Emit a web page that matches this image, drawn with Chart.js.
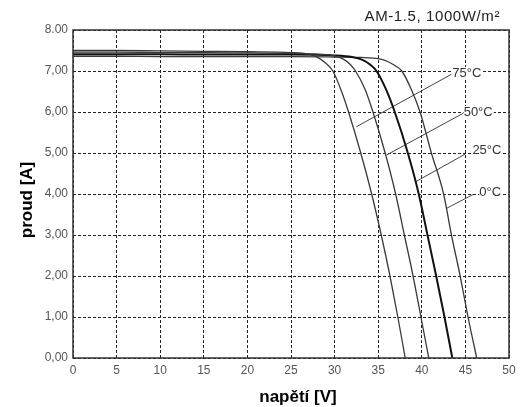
<!DOCTYPE html>
<html>
<head>
<meta charset="utf-8">
<script src="https://cdn.jsdelivr.net/npm/chart.js@4/dist/chart.umd.min.js"></script>
<style>
html,body{margin:0;padding:0;background:#fff;}
canvas{display:block;}
</style>
</head>
<body>
<canvas id="c" width="521" height="407"></canvas>
<script>
// ---- data ----
const xTickValues = [0, 5, 10, 15, 20, 25, 30, 35, 40, 45, 50];
const yTickLabels = ['0,00', '1,00', '2,00', '3,00', '4,00', '5,00', '6,00', '7,00', '8.00'];

const seriesNames = ['75°C', '50°C', '25°C', '0°C'];

const v75 = [0, 5, 10, 15, 20, 25, 27, 28, 29, 29.8, 30.8, 31.6, 33.0, 34.25, 35.35, 36.35, 37.25, 38.1];
const i75 = [7.50, 7.50, 7.49, 7.48, 7.47, 7.45, 7.41, 7.34, 7.19, 7.00, 6.50, 6.00, 5.00, 4.00, 3.00, 2.00, 1.00, 0];

const v50 = [0, 5, 10, 15, 20, 25, 28, 30, 31, 31.8, 32.4, 33.5, 34.4, 35.8, 37.0, 38.0, 39.0, 39.9, 40.8];
const i50 = [7.46, 7.46, 7.45, 7.45, 7.44, 7.43, 7.41, 7.37, 7.29, 7.16, 7.00, 6.55, 6.00, 5.00, 4.00, 3.00, 2.00, 1.00, 0];

const v25 = [0, 5, 10, 15, 20, 25, 30, 32, 33.2, 34.1, 34.8, 35.9, 36.9, 38.4, 39.65, 40.65, 41.65, 42.6, 43.5];
const i25 = [7.41, 7.41, 7.41, 7.40, 7.40, 7.40, 7.38, 7.34, 7.27, 7.15, 7.00, 6.55, 6.00, 5.00, 4.00, 3.00, 2.00, 1.00, 0];

const v0 = [0, 5, 10, 15, 20, 25, 30, 33, 35, 36.2, 37.0, 37.7, 38.8, 39.8, 41.1, 42.5, 43.4, 44.4, 45.3, 46.3];
const i0 = [7.36, 7.36, 7.35, 7.35, 7.35, 7.35, 7.34, 7.33, 7.30, 7.22, 7.12, 7.00, 6.55, 6.00, 5.00, 4.00, 3.00, 2.00, 1.00, 0];

// leader lines and label anchors (data coordinates)
const leadStartV = [32.5, 35.95, 39.3, 42.85];
const leadStartI = [5.64, 4.95, 4.30, 3.65];
const leadEndV = [43.4, 44.75, 44.95, 45.9];
const leadEndI = [6.92, 5.97, 4.97, 3.99];
const labelV = [43.5, 44.8, 45.8, 46.6];
const labelI = [6.95, 6.00, 5.07, 4.05];

const titleText = 'AM-1.5, 1000W/m²';
const xTitle = 'napětí [V]';
const yTitle = 'proud [A]';

// ---- build datasets ----
function pts(vs, is) { return vs.map((v, k) => ({x: v, y: is[k]})); }
const curveStyle = {
  showLine: true, pointRadius: 0, fill: false,
  cubicInterpolationMode: 'monotone'
};
const datasets = [
  Object.assign({label: seriesNames[0], data: pts(v75, i75), borderColor: '#3a3a3a', borderWidth: 1.3}, curveStyle),
  Object.assign({label: seriesNames[1], data: pts(v50, i50), borderColor: '#3a3a3a', borderWidth: 1.3}, curveStyle),
  Object.assign({label: seriesNames[2], data: pts(v25, i25), borderColor: '#111', borderWidth: 2}, curveStyle),
  Object.assign({label: seriesNames[3], data: pts(v0, i0), borderColor: '#3a3a3a', borderWidth: 1.3}, curveStyle)
];
seriesNames.forEach((n, k) => {
  datasets.push({
    label: 'leader ' + n,
    data: [{x: leadStartV[k], y: leadStartI[k]}, {x: leadEndV[k], y: leadEndI[k]}],
    showLine: true, pointRadius: 0, borderColor: '#444', borderWidth: 1, tension: 0
  });
});

const FONT = '"Liberation Sans", Arial, Helvetica, sans-serif';

const overlay = {
  id: 'overlay',
  afterDraw(chart) {
    const {ctx, chartArea: a, scales} = chart;
    const sx = scales.x, sy = scales.y;
    ctx.save();
    ctx.setLineDash([]);
    // frame
    ctx.strokeStyle = '#333';
    ctx.lineWidth = 1.5;
    ctx.strokeRect(a.left, a.top, a.right - a.left, a.bottom - a.top);
    // temperature labels
    ctx.font = '13px ' + FONT;
    ctx.textAlign = 'left';
    ctx.textBaseline = 'middle';
    seriesNames.forEach((t, k) => {
      const px = sx.getPixelForValue(labelV[k]);
      const py = sy.getPixelForValue(labelI[k]);
      const w = ctx.measureText(t).width;
      ctx.fillStyle = '#fff';
      ctx.fillRect(px, py - 6, w + 1, 12);
      ctx.fillStyle = '#333';
      ctx.fillText(t, px, py);
    });
    // top-right title
    ctx.font = '15px ' + FONT;
    ctx.fillStyle = '#222';
    ctx.textAlign = 'right';
    ctx.textBaseline = 'alphabetic';
    try { ctx.letterSpacing = '0.6px'; } catch (e) {}
    ctx.fillText(titleText, 500, 20.5);
    try { ctx.letterSpacing = '0px'; } catch (e) {}
    // axis titles
    ctx.font = 'bold 17px ' + FONT;
    ctx.fillStyle = '#000';
    ctx.textAlign = 'center';
    ctx.fillText(xTitle, (sx.getPixelForValue(0) + sx.getPixelForValue(50)) / 2 + 7, 402);
    ctx.translate(32, (sy.getPixelForValue(0) + sy.getPixelForValue(8)) / 2 + 6);
    ctx.rotate(-Math.PI / 2);
    ctx.fillText(yTitle, 0, 0);
    ctx.restore();
  }
};

new Chart(document.getElementById('c'), {
  type: 'scatter',
  data: {datasets},
  options: {
    responsive: false,
    animation: false,
    devicePixelRatio: 1,
    layout: {padding: {top: 30, right: 12, bottom: 0, left: 0}},
    plugins: {legend: {display: false}, tooltip: {enabled: false}, title: {display: false}},
    scales: {
      x: {
        type: 'linear', min: 0, max: 50,
        afterFit(s) { s.height = 49; },
        afterBuildTicks(s) { s.ticks = xTickValues.map(v => ({value: v})); },
        ticks: {
          padding: 5, color: '#555', font: {family: FONT, size: 12},
          callback: (v) => String(v), maxRotation: 0, autoSkip: false
        },
        grid: {color: '#222', lineWidth: 1, drawTicks: false},
        border: {display: false, dash: [3, 2]}
      },
      y: {
        type: 'linear', min: 0, max: 8,
        afterFit(s) { s.width = 73; },
        afterBuildTicks(s) { s.ticks = yTickLabels.map((t, k) => ({value: k})); },
        ticks: {
          padding: 5, color: '#555', font: {family: FONT, size: 12},
          callback: (v) => yTickLabels[Math.round(v)], autoSkip: false
        },
        grid: {color: '#222', lineWidth: 1, drawTicks: false},
        border: {display: false, dash: [3, 2]}
      }
    }
  },
  plugins: [overlay]
});
</script>
</body>
</html>
